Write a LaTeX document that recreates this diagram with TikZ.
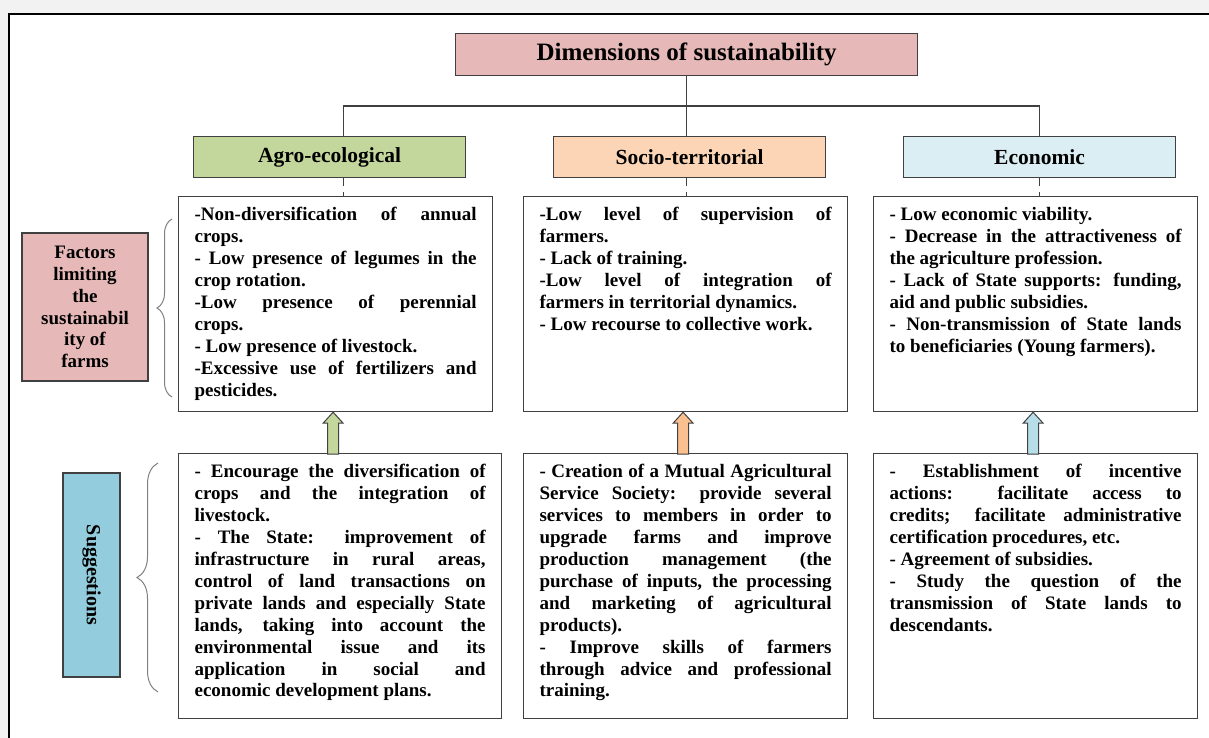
\documentclass[tikz,border=0pt]{standalone}
\usepackage{fontspec}
\setmainfont{Liberation Serif}
\usetikzlibrary{decorations.pathreplacing}
\definecolor{pinkc}{HTML}{E6B9B8}
\definecolor{agroc}{HTML}{C3D69B}
\definecolor{socioc}{HTML}{FBD5B5}
\definecolor{socioarr}{HTML}{FAC090}
\definecolor{ecoc}{HTML}{DBEEF4}
\definecolor{ecoarr}{HTML}{B7DEE8}
\definecolor{sugc}{HTML}{93CDDD}
\definecolor{edge}{HTML}{404040}
\newcommand{\btxt}[3]{\parbox[t][#2][t]{#1}{\hyphenpenalty=10000\exhyphenpenalty=10000\tolerance=10000\hbadness=10000\strut #3}}
\begin{document}
\begin{tikzpicture}[x=1pt,y=-1pt,
 box/.style={draw=edge, line width=1.2pt, anchor=north west, inner xsep=16pt, inner ysep=9pt, fill=white, font=\fontsize{19}{21.9}\selectfont\bfseries},
 hd/.style={draw=edge, line width=1.2pt, anchor=north west, minimum width=272pt, minimum height=41pt, font=\fontsize{21.5}{24}\selectfont\bfseries},
 lbl/.style={draw=edge, line width=1.2pt, align=center, font=\fontsize{19}{21.8}\selectfont\bfseries},
 brc/.style={draw=gray, line width=1pt, decorate, decoration={brace, amplitude=#1}},
 uparr/.pic={\path[draw=edge, line width=1pt, pic actions] (0,0) -- (10,11) -- (5.5,11) -- (5.5,42) -- (-5.5,42) -- (-5.5,11) -- (-10,11) -- cycle;}]
\fill[gray!10] (0,0) rectangle (1209,738);
\useasboundingbox (0,0) rectangle (1209,738);
\draw[line width=2pt, fill=white] (9,14) rectangle (1240,770);
% header row
\node[hd, minimum width=462pt, minimum height=42pt, fill=pinkc, font=\fontsize{25}{28}\selectfont\bfseries] (dim) at (455,33) {Dimensions of sustainability};
\node[hd, fill=agroc] (agro) at (193,136) {Agro-ecological};
\node[hd, fill=socioc] (socio) at (553,136) {Socio-territorial};
\node[hd, fill=ecoc] (eco) at (903,136) {Economic};
\draw[edge, line width=1.2pt] (dim.south) -- (dim.south |- socio.north);
\draw[edge, line width=1.2pt] ([xshift=14pt]agro.north) -- ++(0,-30) -| (eco.north);
% factors
\node[box] (agrofac) at (178,196) {\btxt{282pt}{197pt}{-Non-diversification of annual\linebreak crops.\\
- Low presence of legumes in the\linebreak crop rotation.\\
-Low presence of perennial\linebreak crops.\\
- Low presence of livestock.\\
-Excessive use of fertilizers and\linebreak pesticides.}};
\node[box] (sociofac) at (523,196) {\btxt{292pt}{197pt}{-Low level of supervision of\linebreak farmers.\\
- Lack of training.\\
-Low level of integration of\linebreak farmers in territorial dynamics.\\
- Low recourse to collective work.}};
\node[box] (ecofac) at (873,196) {\btxt{292pt}{197pt}{- Low economic viability.\\
- Decrease in the attractiveness of\linebreak the agriculture profession.\\
- Lack of State supports: funding,\linebreak aid and public subsidies.\\
- Non-transmission of State lands\linebreak to beneficiaries (Young farmers).}};
% suggestions
\node[box] (agrosug) at (178,453) {\btxt{291pt}{247pt}{- Encourage the diversification of\linebreak crops and the integration of\linebreak livestock.\\
- The State: improvement of\linebreak infrastructure in rural areas,\linebreak control of land transactions on\linebreak private lands and especially State\linebreak lands, taking into account the\linebreak environmental issue and its\linebreak application in social and\linebreak economic development plans.}};
\node[box] (sociosug) at (523,453) {\btxt{292pt}{247pt}{- Creation of a Mutual Agricultural\linebreak Service Society: provide several\linebreak services to members in order to\linebreak upgrade farms and improve\linebreak production management (the\linebreak purchase of inputs, the processing\linebreak and marketing of agricultural\linebreak products).\\
- Improve skills of farmers\linebreak through advice and professional\linebreak training.}};
\node[box] (ecosug) at (873,453) {\btxt{292pt}{247pt}{- Establishment of incentive\linebreak actions: facilitate access to\linebreak credits; facilitate administrative\linebreak certification procedures, etc.\\
- Agreement of subsidies.\\
- Study the question of the\linebreak transmission of State lands to\linebreak descendants.}};
\foreach \h/\f/\s in {agro/agrofac/14pt, socio/sociofac/-3pt, eco/ecofac/0pt}
  \draw[edge, line width=1.2pt, dash pattern=on 8pt off 6pt] ([xshift=\s]\h.south) -- ([xshift=\s]\h.south |- \f.north);
\foreach \f/\c in {agrofac/agroc, sociofac/socioarr, ecofac/ecoarr}
  \pic[fill=\c] at ([xshift=-2.5pt]\f.south) {uparr};
% left labels
\node[lbl, fill=pinkc, minimum width=126pt, minimum height=148pt] (lim) at (85,307) {Factors\\limiting\\the\\sustainabil\\ity of\\farms};
\node[lbl, fill=sugc, rotate=-90, minimum width=204pt, minimum height=57pt, font=\fontsize{20}{24}\selectfont\bfseries] (sug) at (91.5,575) {Suggestions};
\draw[brc=15pt] (172,397) -- (172,219);
\draw[brc=21pt] (158,692) -- (158,463);
\end{tikzpicture}
\end{document}
